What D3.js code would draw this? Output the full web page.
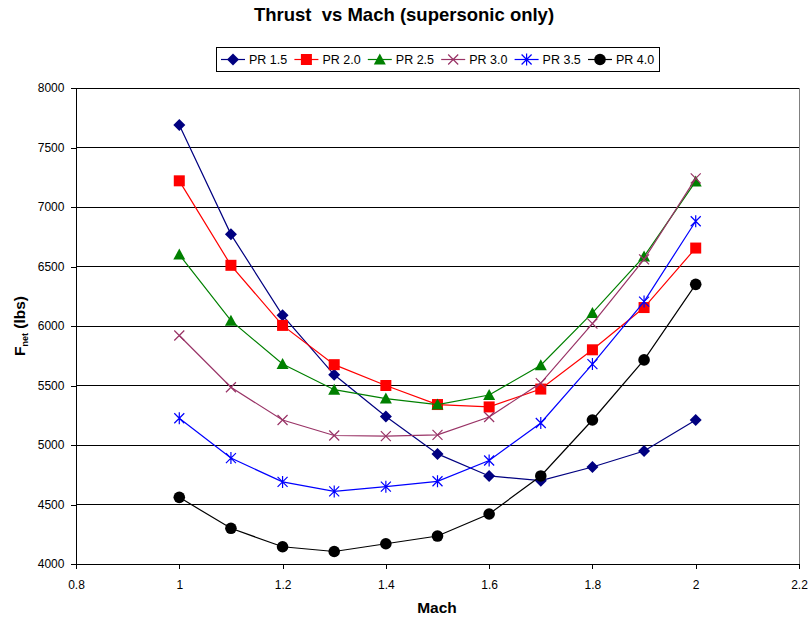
<!DOCTYPE html>
<html><head><meta charset="utf-8">
<script src="https://cdn.jsdelivr.net/npm/d3@7"></script>
<style>body{margin:0;background:#fff;font-family:"Liberation Sans",Arial,sans-serif;}</style>
</head><body><svg id="c" width="810" height="621"></svg>
<script>
const mach = [1.0,1.1,1.2,1.3,1.4,1.5,1.6,1.7,1.8,1.9,2.0];
const pr15 = [7690,6770,6090,5590,5240,4925,4740,4700,4815,4950,5210];
const pr20 = [7220,6510,6005,5675,5500,5340,5320,5470,5800,6155,6655];
const pr25 = [6600,6045,5680,5465,5390,5340,5420,5670,6110,6585,7215];
const pr30 = [5920,5485,5210,5080,5075,5085,5235,5520,6020,6560,7240];
const pr35 = [5225,4890,4690,4610,4650,4695,4870,5185,5680,6205,6880];
const pr40 = [4560,4300,4145,4105,4170,4235,4420,4740,5210,5715,6350];
const seriesNames = ["PR 1.5","PR 2.0","PR 2.5","PR 3.0","PR 3.5","PR 4.0"];
const xTicks = [0.8,1,1.2,1.4,1.6,1.8,2,2.2];
const yTicks = [4000,4500,5000,5500,6000,6500,7000,7500,8000];

const colors = ["#000080","#FF0000","#008000","#993366","#0000FF","#000000"];
const markers = ["diamond","square","triangle","x","star","circle"];
const allVals = [pr15,pr20,pr25,pr30,pr35,pr40];

const svg = d3.select("#c");
const L=76,R=799,T=88,B=564;
const x = d3.scaleLinear().domain([0.8,2.2]).range([L,R]);
const y = d3.scaleLinear().domain([4000,8000]).range([B,T]);

svg.append("g").selectAll("line").data(yTicks.slice(1)).join("line")
  .attr("x1",L).attr("x2",R).attr("y1",d=>y(d)).attr("y2",d=>y(d))
  .attr("stroke","#000").attr("stroke-width",1).attr("shape-rendering","crispEdges");
svg.append("line").attr("x1",R).attr("x2",R).attr("y1",T).attr("y2",B)
  .attr("stroke","#808080").attr("shape-rendering","crispEdges");

const xAxis = svg.append("g").attr("transform",`translate(0,${B})`)
  .call(d3.axisBottom(x).tickValues(xTicks).tickFormat(d=>String(d)).tickSize(5).tickSizeOuter(0));
const yAxis = svg.append("g").attr("transform",`translate(${L},0)`)
  .call(d3.axisLeft(y).tickValues(yTicks).tickFormat(d=>String(d)).tickSize(5).tickSizeOuter(0));
[xAxis,yAxis].forEach(g=>{
  g.selectAll("path,line").attr("stroke","#000").attr("shape-rendering","crispEdges");
  g.selectAll("text").attr("font-family","'Liberation Sans',Arial,sans-serif").attr("font-size",12).attr("fill","#000");
});
xAxis.selectAll("text").attr("dy","1.4em");
yAxis.selectAll("text").attr("dx","-0.3em");

function drawMarker(g,type,color,cx,cy){
  const s=6;
  if(type==="diamond") g.append("path").attr("d",`M${cx},${cy-s}L${cx+s},${cy}L${cx},${cy+s}L${cx-s},${cy}Z`).attr("fill",color);
  else if(type==="square") g.append("rect").attr("x",cx-5.5).attr("y",cy-5.5).attr("width",11).attr("height",11).attr("fill",color);
  else if(type==="triangle") g.append("path").attr("d",`M${cx},${cy-6}L${cx+6},${cy+5}L${cx-6},${cy+5}Z`).attr("fill",color);
  else if(type==="x") g.append("path").attr("d",`M${cx-5},${cy-5}L${cx+5},${cy+5}M${cx-5},${cy+5}L${cx+5},${cy-5}`).attr("stroke",color).attr("stroke-width",1.2);
  else if(type==="star") g.append("path").attr("d",`M${cx-5},${cy-5}L${cx+5},${cy+5}M${cx-5},${cy+5}L${cx+5},${cy-5}M${cx},${cy-6}L${cx},${cy+6}`).attr("stroke",color).attr("stroke-width",1.2);
  else if(type==="circle") g.append("circle").attr("cx",cx).attr("cy",cy).attr("r",5.8).attr("fill",color);
}

const line = d3.line().x((d,i)=>x(mach[i])).y(d=>y(d));
allVals.forEach((vals,si)=>{
  const g = svg.append("g");
  g.append("path").attr("d",line(vals)).attr("fill","none").attr("stroke",colors[si]).attr("stroke-width",1.2);
  vals.forEach((v,i)=>drawMarker(g,markers[si],colors[si],x(mach[i]),y(v)));
});

svg.append("text").attr("x",404).attr("y",21).attr("text-anchor","middle")
  .attr("font-size",18.5).attr("font-weight","bold").attr("xml:space","preserve").text("Thrust  vs Mach (supersonic only)");

svg.append("rect").attr("x",216.5).attr("y",47.5).attr("width",443).attr("height",24)
  .attr("fill","#fff").attr("stroke","#000");
seriesNames.forEach((n,i)=>{
  const lx = 221 + i*73.4, ly=59.5;
  const g = svg.append("g");
  g.append("line").attr("x1",lx).attr("x2",lx+24).attr("y1",ly).attr("y2",ly).attr("stroke",colors[i]).attr("stroke-width",1.2);
  drawMarker(g,markers[i],colors[i],lx+12,ly);
  g.append("text").attr("x",lx+28).attr("y",ly+4.5).attr("font-size",12.5).text(n);
});

svg.append("text").attr("x",437).attr("y",613).attr("text-anchor","middle")
  .attr("font-size",15.5).attr("font-weight","bold").text("Mach");
const yl = svg.append("text").attr("transform","translate(25,326) rotate(-90)").attr("text-anchor","middle")
  .attr("font-size",15.5).attr("font-weight","bold");
yl.append("tspan").text("F");
yl.append("tspan").attr("font-size",9).attr("dy",3).text("net");
yl.append("tspan").attr("dy",-3).text(" (lbs)");
</script></body></html>
